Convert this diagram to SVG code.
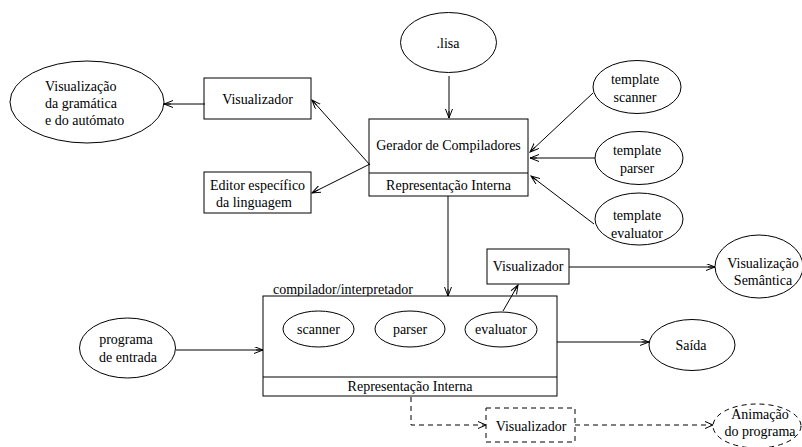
<svg xmlns="http://www.w3.org/2000/svg" width="802" height="447" viewBox="0 0 802 447" font-family="'Liberation Serif', 'Times New Roman', serif" font-size="14">
<defs>
<marker id="ah" markerWidth="10" markerHeight="8" refX="9" refY="3.5" orient="auto" markerUnits="userSpaceOnUse">
<path d="M0,0 L9,3.5 L0,7 M2,3.5 L9,3.5" fill="none" stroke="#000" stroke-width="1"/>
</marker>
</defs>
<style>
.s{fill:#fff;stroke:#000;stroke-width:1}
.d{fill:#fff;stroke:#000;stroke-width:1;stroke-dasharray:5,4}
.c{fill:none;stroke:#000;stroke-width:1;marker-end:url(#ah)}
.cd{fill:none;stroke:#000;stroke-width:1;stroke-dasharray:5,4}
text{font-family:'Liberation Serif','Times New Roman',serif;font-size:14px;fill:#000}
.m{text-anchor:middle}
</style>
<rect width="802" height="447" fill="#fff"/>
<g id="vis-gramatica">
<ellipse class="s" cx="87" cy="102" rx="77" ry="41"/>
<text x="45" y="91">Visualização</text>
<text x="45" y="108">da gramática</text>
<text x="45" y="125">e do autómato</text>
</g>
<g id="visualizador1">
<rect class="s" x="204" y="78" width="107" height="41"/>
<text class="m" x="257.5" y="104">Visualizador</text>
</g>
<g id="editor">
<rect class="s" x="204" y="172" width="107" height="41"/>
<text class="m" x="257.5" y="190">Editor específico</text>
<text x="216" y="207">da linguagem</text>
</g>
<g id="lisa">
<ellipse class="s" cx="448.5" cy="42.5" rx="48" ry="30"/>
<text class="m" x="448" y="48">.lisa</text>
</g>
<g id="gerador">
<rect class="s" x="369" y="119" width="159" height="77"/>
<line x1="369" y1="173" x2="528" y2="173" stroke="#000"/>
<text class="m" x="448.5" y="150">Gerador de Compiladores</text>
<text class="m" x="448.5" y="190">Representação Interna</text>
</g>
<g id="template-scanner">
<ellipse class="s" cx="637" cy="87" rx="44" ry="26.5"/>
<text class="m" x="635" y="84">template</text>
<text class="m" x="635" y="102">scanner</text>
</g>
<g id="template-parser">
<ellipse class="s" cx="639" cy="158" rx="44" ry="26.5"/>
<text class="m" x="637" y="155">template</text>
<text class="m" x="637" y="173">parser</text>
</g>
<g id="template-evaluator">
<ellipse class="s" cx="639" cy="219" rx="44" ry="26"/>
<text class="m" x="637" y="220">template</text>
<text class="m" x="637" y="238">evaluator</text>
</g>
<g id="compilador">
<text x="273" y="294">compilador/interpretador</text>
<rect class="s" x="263" y="296" width="294" height="100"/>
<line x1="263" y1="377" x2="557" y2="377" stroke="#000"/>
<text class="m" x="410" y="391">Representação Interna</text>
<g id="scanner">
<ellipse class="s" cx="318.5" cy="329" rx="35.5" ry="18"/>
<text class="m" x="318.5" y="334">scanner</text>
</g>
<g id="parser">
<ellipse class="s" cx="410" cy="329" rx="35" ry="18"/>
<text class="m" x="410" y="334">parser</text>
</g>
<g id="evaluator">
<ellipse class="s" cx="501" cy="329.5" rx="36" ry="17.5"/>
<text class="m" x="501" y="334">evaluator</text>
</g>
</g>
<g id="visualizador2">
<rect class="s" x="487" y="249" width="82" height="35"/>
<text class="m" x="528" y="271">Visualizador</text>
</g>
<g id="vis-semantica">
<ellipse class="s" cx="759" cy="266.5" rx="44" ry="31.5"/>
<text class="m" x="763" y="268">Visualização</text>
<text class="m" x="763" y="285">Semântica</text>
</g>
<g id="saida">
<ellipse class="s" cx="692" cy="345" rx="43" ry="25.5"/>
<text class="m" x="691" y="350">Saída</text>
</g>
<g id="programa-entrada">
<ellipse class="s" cx="127.5" cy="348" rx="48" ry="30"/>
<text class="m" x="126" y="344">programa</text>
<text class="m" x="128" y="362">de entrada</text>
</g>
<g id="visualizador3">
<rect class="d" x="486" y="408" width="89" height="34"/>
<text class="m" x="531" y="431">Visualizador</text>
</g>
<g id="animacao">
<ellipse class="d" cx="757" cy="426" rx="44" ry="22"/>
<text class="m" x="760" y="419">Animação</text>
<text class="m" x="760" y="436">do programa</text>
</g>
<g id="connectors">
<line class="c" x1="205" y1="104" x2="164" y2="104"/>
<line class="c" x1="370" y1="165" x2="312" y2="100"/>
<line class="c" x1="370" y1="164" x2="312" y2="193"/>
<line class="c" x1="449" y1="76" x2="449" y2="118"/>
<line class="c" x1="593" y1="93" x2="530" y2="152"/>
<line class="c" x1="595" y1="158" x2="530" y2="158"/>
<line class="c" x1="594" y1="224" x2="531" y2="176"/>
<line class="c" x1="448" y1="196" x2="448" y2="296"/>
<line class="c" x1="503" y1="311" x2="518" y2="285"/>
<line class="c" x1="569" y1="267" x2="715" y2="267"/>
<line class="c" x1="557" y1="342" x2="649" y2="342"/>
<line class="c" x1="176" y1="350" x2="263" y2="350"/>
<polyline class="cd" points="411,397 411,425 485,425"/>
<path d="M478,421.5 L486,425 L478,428.5" fill="none" stroke="#000"/>
<line class="cd" x1="575" y1="425" x2="712" y2="425"/>
<path d="M705,421.5 L713,425 L705,428.5" fill="none" stroke="#000"/>
</g>
</svg>
